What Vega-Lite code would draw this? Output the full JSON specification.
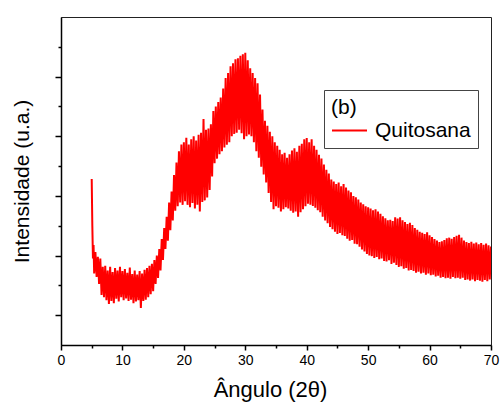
{
 "$schema": "https://vega.github.io/schema/vega-lite/v6.json",
 "width": 430, "height": 328,
 "autosize": {"type": "none"},
 "padding": {"left": 61, "top": 17, "right": 9, "bottom": 64},
 "background": "white",
 "config": {"view": {"stroke": "#222", "strokeWidth": 1}, "font": "Liberation Sans"},
 "data": {"values": [
{"a":5.0,"v":557},{"a":5.1,"v":400},{"a":5.2,"v":290},{"a":5.3,"v":335},{"a":5.4,"v":240},{"a":5.6,"v":312},{"a":5.8,"v":228},
{"a":6.0,"v":296},{"a":6.2,"v":205},{"a":6.4,"v":290},{"a":6.6,"v":168},{"a":6.8,"v":262},
{"a":7.0,"v":160},{"a":7.2,"v":266},{"a":7.4,"v":150},{"a":7.6,"v":250},{"a":7.8,"v":138},
{"a":8.0,"v":262},{"a":8.2,"v":148},{"a":8.4,"v":245},{"a":8.6,"v":140},{"a":8.8,"v":258},
{"a":9.0,"v":155},{"a":9.2,"v":250},{"a":9.4,"v":146},{"a":9.6,"v":262},{"a":9.8,"v":160},
{"a":10.0,"v":248},{"a":10.2,"v":150},{"a":10.4,"v":255},{"a":10.6,"v":156},{"a":10.8,"v":242},
{"a":11.0,"v":148},{"a":11.2,"v":260},{"a":11.4,"v":152},{"a":11.6,"v":238},{"a":11.8,"v":140},
{"a":12.0,"v":250},{"a":12.2,"v":146},{"a":12.4,"v":236},{"a":12.6,"v":150},{"a":12.8,"v":248},
{"a":13.0,"v":124},{"a":13.2,"v":240},{"a":13.4,"v":148},{"a":13.6,"v":252},{"a":13.8,"v":152},
{"a":14.0,"v":258},{"a":14.2,"v":160},{"a":14.4,"v":266},{"a":14.6,"v":170},{"a":14.8,"v":272},
{"a":15.0,"v":180},{"a":15.2,"v":285},{"a":15.4,"v":205},{"a":15.6,"v":300},{"a":15.8,"v":225},
{"a":16.0,"v":322},{"a":16.2,"v":250},{"a":16.4,"v":355},{"a":16.6,"v":285},{"a":16.8,"v":392},
{"a":17.0,"v":322},{"a":17.2,"v":430},{"a":17.4,"v":350},{"a":17.6,"v":478},{"a":17.8,"v":385},
{"a":18.0,"v":515},{"a":18.2,"v":418},{"a":18.4,"v":570},{"a":18.6,"v":450},{"a":18.8,"v":612},
{"a":19.0,"v":465},{"a":19.2,"v":650},{"a":19.4,"v":478},{"a":19.6,"v":672},{"a":19.8,"v":470},
{"a":20.0,"v":680},{"a":20.2,"v":482},{"a":20.4,"v":695},{"a":20.6,"v":470},{"a":20.8,"v":672},
{"a":21.0,"v":462},{"a":21.2,"v":690},{"a":21.4,"v":476},{"a":21.6,"v":700},{"a":21.8,"v":458},
{"a":22.0,"v":686},{"a":22.2,"v":470},{"a":22.4,"v":705},{"a":22.6,"v":448},{"a":22.8,"v":712},
{"a":23.0,"v":480},{"a":23.2,"v":758},{"a":23.4,"v":485},{"a":23.6,"v":722},{"a":23.8,"v":495},
{"a":24.0,"v":726},{"a":24.2,"v":520},{"a":24.4,"v":740},{"a":24.6,"v":565},{"a":24.8,"v":785},
{"a":25.0,"v":610},{"a":25.2,"v":800},{"a":25.4,"v":625},{"a":25.6,"v":815},{"a":25.8,"v":640},
{"a":26.0,"v":830},{"a":26.2,"v":650},{"a":26.4,"v":860},{"a":26.6,"v":662},{"a":26.8,"v":895},
{"a":27.0,"v":672},{"a":27.2,"v":912},{"a":27.4,"v":680},{"a":27.6,"v":935},{"a":27.8,"v":700},
{"a":28.0,"v":945},{"a":28.2,"v":708},{"a":28.4,"v":958},{"a":28.6,"v":712},{"a":28.8,"v":962},
{"a":29.0,"v":722},{"a":29.2,"v":970},{"a":29.4,"v":710},{"a":29.6,"v":975},{"a":29.8,"v":690},
{"a":30.0,"v":980},{"a":30.2,"v":700},{"a":30.4,"v":955},{"a":30.6,"v":706},{"a":30.8,"v":928},
{"a":31.0,"v":700},{"a":31.2,"v":912},{"a":31.4,"v":680},{"a":31.6,"v":895},{"a":31.8,"v":650},
{"a":32.0,"v":878},{"a":32.2,"v":628},{"a":32.4,"v":840},{"a":32.6,"v":598},{"a":32.8,"v":790},
{"a":33.0,"v":572},{"a":33.2,"v":752},{"a":33.4,"v":545},{"a":33.6,"v":735},{"a":33.8,"v":510},
{"a":34.0,"v":715},{"a":34.2,"v":480},{"a":34.4,"v":700},{"a":34.6,"v":455},{"a":34.8,"v":680},
{"a":35.0,"v":465},{"a":35.2,"v":668},{"a":35.4,"v":460},{"a":35.6,"v":655},{"a":35.8,"v":448},
{"a":36.0,"v":640},{"a":36.2,"v":455},{"a":36.4,"v":645},{"a":36.6,"v":462},{"a":36.8,"v":628},
{"a":37.0,"v":458},{"a":37.2,"v":640},{"a":37.4,"v":450},{"a":37.6,"v":652},{"a":37.8,"v":444},
{"a":38.0,"v":660},{"a":38.2,"v":448},{"a":38.4,"v":648},{"a":38.6,"v":430},{"a":38.8,"v":668},
{"a":39.0,"v":445},{"a":39.2,"v":675},{"a":39.4,"v":455},{"a":39.6,"v":690},{"a":39.8,"v":465},
{"a":40.0,"v":694},{"a":40.2,"v":474},{"a":40.4,"v":680},{"a":40.6,"v":470},{"a":40.8,"v":690},
{"a":41.0,"v":466},{"a":41.2,"v":668},{"a":41.4,"v":460},{"a":41.6,"v":655},{"a":41.8,"v":452},
{"a":42.0,"v":638},{"a":42.2,"v":445},{"a":42.4,"v":625},{"a":42.6,"v":430},{"a":42.8,"v":605},
{"a":43.0,"v":418},{"a":43.2,"v":588},{"a":43.4,"v":408},{"a":43.6,"v":575},{"a":43.8,"v":396},
{"a":44.0,"v":555},{"a":44.2,"v":388},{"a":44.4,"v":548},{"a":44.6,"v":380},{"a":44.8,"v":540},
{"a":45.0,"v":372},{"a":45.2,"v":545},{"a":45.4,"v":376},{"a":45.6,"v":532},{"a":45.8,"v":368},
{"a":46.0,"v":540},{"a":46.2,"v":366},{"a":46.4,"v":528},{"a":46.6,"v":356},{"a":46.8,"v":518},
{"a":47.0,"v":350},{"a":47.2,"v":512},{"a":47.4,"v":352},{"a":47.6,"v":500},{"a":47.8,"v":340},
{"a":48.0,"v":495},{"a":48.2,"v":338},{"a":48.4,"v":488},{"a":48.6,"v":330},{"a":48.8,"v":478},
{"a":49.0,"v":320},{"a":49.2,"v":472},{"a":49.4,"v":314},{"a":49.6,"v":465},{"a":49.8,"v":305},
{"a":50.0,"v":462},{"a":50.2,"v":300},{"a":50.4,"v":458},{"a":50.6,"v":298},{"a":50.8,"v":452},
{"a":51.0,"v":292},{"a":51.2,"v":455},{"a":51.4,"v":295},{"a":51.6,"v":448},{"a":51.8,"v":288},
{"a":52.0,"v":440},{"a":52.2,"v":290},{"a":52.4,"v":432},{"a":52.6,"v":282},{"a":52.8,"v":425},
{"a":53.0,"v":280},{"a":53.2,"v":418},{"a":53.4,"v":284},{"a":53.6,"v":420},{"a":53.8,"v":272},
{"a":54.0,"v":416},{"a":54.2,"v":276},{"a":54.4,"v":428},{"a":54.6,"v":268},{"a":54.8,"v":424},
{"a":55.0,"v":262},{"a":55.2,"v":428},{"a":55.4,"v":264},{"a":55.6,"v":418},{"a":55.8,"v":256},
{"a":56.0,"v":412},{"a":56.2,"v":258},{"a":56.4,"v":406},{"a":56.6,"v":250},{"a":56.8,"v":410},
{"a":57.0,"v":252},{"a":57.2,"v":402},{"a":57.4,"v":248},{"a":57.6,"v":392},{"a":57.8,"v":242},
{"a":58.0,"v":386},{"a":58.2,"v":246},{"a":58.4,"v":380},{"a":58.6,"v":240},{"a":58.8,"v":376},
{"a":59.0,"v":242},{"a":59.2,"v":372},{"a":59.4,"v":236},{"a":59.6,"v":378},{"a":59.8,"v":240},
{"a":60.0,"v":368},{"a":60.2,"v":234},{"a":60.4,"v":362},{"a":60.6,"v":236},{"a":60.8,"v":355},
{"a":61.0,"v":230},{"a":61.2,"v":350},{"a":61.4,"v":232},{"a":61.6,"v":345},{"a":61.8,"v":226},
{"a":62.0,"v":348},{"a":62.2,"v":228},{"a":62.4,"v":352},{"a":62.6,"v":224},{"a":62.8,"v":358},
{"a":63.0,"v":226},{"a":63.2,"v":360},{"a":63.4,"v":222},{"a":63.6,"v":356},{"a":63.8,"v":228},
{"a":64.0,"v":362},{"a":64.2,"v":224},{"a":64.4,"v":366},{"a":64.6,"v":226},{"a":64.8,"v":370},
{"a":65.0,"v":222},{"a":65.2,"v":360},{"a":65.4,"v":226},{"a":65.6,"v":350},{"a":65.8,"v":218},
{"a":66.0,"v":345},{"a":66.2,"v":220},{"a":66.4,"v":342},{"a":66.6,"v":216},{"a":66.8,"v":346},
{"a":67.0,"v":220},{"a":67.2,"v":340},{"a":67.4,"v":214},{"a":67.6,"v":344},{"a":67.8,"v":218},
{"a":68.0,"v":338},{"a":68.2,"v":216},{"a":68.4,"v":342},{"a":68.6,"v":212},{"a":68.8,"v":336},
{"a":69.0,"v":218},{"a":69.2,"v":340},{"a":69.4,"v":214},{"a":69.6,"v":334},{"a":69.8,"v":220},
{"a":70.0,"v":330}
 ]},
 "layer": [
  {
   "mark": {"type": "line", "strokeWidth": 2, "clip": true},
   "encoding": {
    "x": {"field": "a", "type": "quantitative", "scale": {"domain": [0, 70], "nice": false},
     "axis": {"title": "Ângulo (2θ)", "titleX": 209, "values": [0, 10, 20, 30, 40, 50, 60, 70], "grid": false, "tickSize": 5, "tickWidth": 1.5, "tickColor": "#000", "domainColor": "#000", "domainWidth": 1.5, "labelFontSize": 14, "labelColor": "#000", "labelPadding": 3, "labelFlush": false, "titleFontSize": 22, "titleFontWeight": "normal", "titleColor": "#000", "titlePadding": 12}},
    "y": {"field": "v", "type": "quantitative", "scale": {"domain": [0, 1100], "nice": false, "zero": false},
     "axis": {"title": "Intensidade (u.a.)", "values": [100, 300, 500, 700, 900], "labels": false, "grid": false, "tickSize": 6, "tickWidth": 1.5, "tickColor": "#000", "domainColor": "#000", "domainWidth": 1.5, "titleFontSize": 21, "titleFontWeight": "normal", "titleColor": "#000", "titlePadding": 22}},
    "color": {"datum": "Quitosana", "type": "nominal", "scale": {"domain": ["Quitosana"], "range": ["#ff0000"]},
     "legend": {"title": "(b)", "orient": "none", "legendX": 263, "legendY": 73, "symbolType": "stroke", "symbolSize": 1225, "symbolStrokeWidth": 2, "symbolOpacity": 1, "labelFontSize": 21, "titleFontSize": 21, "titleFontWeight": "normal", "strokeColor": "#444", "padding": 7, "titlePadding": -6, "labelOffset": 7, "fillColor": "white", "labelColor": "#000", "titleColor": "#000"}}
   }
  },
  {
   "mark": {"type": "point", "opacity": 0},
   "encoding": {
    "x": {"field": "a", "type": "quantitative", "axis": {"orient": "bottom", "title": null, "labels": false, "values": [5, 15, 25, 35, 45, 55, 65], "grid": false, "domain": false, "tickSize": 3, "tickWidth": 1.5, "tickColor": "#000"}},
    "y": {"field": "v", "type": "quantitative", "axis": {"orient": "left", "title": null, "labels": false, "values": [200, 400, 600, 800, 1000], "grid": false, "domain": false, "tickSize": 3, "tickWidth": 1.5, "tickColor": "#000"}}
   }
  }
 ],
 "resolve": {"axis": {"x": "independent", "y": "independent"}}
}
